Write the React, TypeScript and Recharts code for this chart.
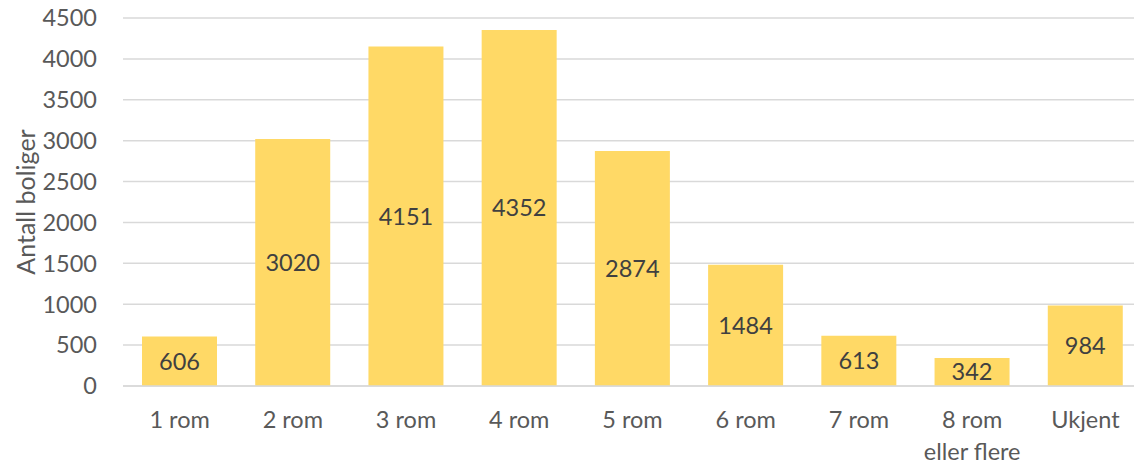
import React from 'react';
import { BarChart, Bar, XAxis, YAxis, CartesianGrid, LabelList } from 'recharts';

const categories = ['1 rom', '2 rom', '3 rom', '4 rom', '5 rom', '6 rom', '7 rom', '8 rom\neller flere', 'Ukjent'];
const boliger = [606, 3020, 4151, 4352, 2874, 1484, 613, 342, 984];
const yTicks = [0, 500, 1000, 1500, 2000, 2500, 3000, 3500, 4000, 4500];

const data = categories.map((name, i) => ({ name, value: boliger[i] }));

const FONT = 'Lato, "Open Sans", sans-serif';

const CategoryTick = (props: any) => {
  const { x, y, payload } = props;
  const lines = String(payload.value).split('\n');
  return (
    <text x={x} y={y} textAnchor="middle" fill="#595959" fontSize={23.5} fontFamily={FONT}>
      {lines.map((line, i) => (
        <tspan key={i} x={x} dy={i === 0 ? 34 : 32}>
          {line}
        </tspan>
      ))}
    </text>
  );
};

export default function App() {
  return (
    <div style={{ position: 'absolute', left: 0, top: 0, width: 1134, height: 464, overflow: 'hidden', background: '#fff' }}>
      <BarChart width={1150} height={464} data={data} margin={{ top: 18, right: 8, bottom: 0, left: 0 }} barSize={75}>
        <CartesianGrid vertical={false} stroke="#D9D9D9" strokeWidth={1.5} />
        <XAxis
          dataKey="name"
          tick={<CategoryTick />}
          tickLine={false}
          axisLine={{ stroke: '#D9D9D9', strokeWidth: 1.5 }}
          height={78}
          interval={0}
        />
        <YAxis
          domain={[0, 4500]}
          ticks={yTicks}
          width={123}
          tickLine={false}
          axisLine={false}
          tickSize={0}
          tickMargin={26}
          tick={{ fill: '#595959', fontSize: 23.5, fontFamily: FONT }}
          label={{
            value: 'Antall boliger',
            angle: -90,
            position: 'insideLeft',
            dx: 21,
            dy: 0,
            style: { fill: '#595959', fontSize: 25, fontFamily: FONT, textAnchor: 'middle' },
          }}
        />
        <Bar dataKey="value" fill="#FFD966" isAnimationActive={false}>
          <LabelList dataKey="value" position="center" fill="#404040" fontSize={23.5} fontFamily={FONT} />
        </Bar>
      </BarChart>
    </div>
  );
}
